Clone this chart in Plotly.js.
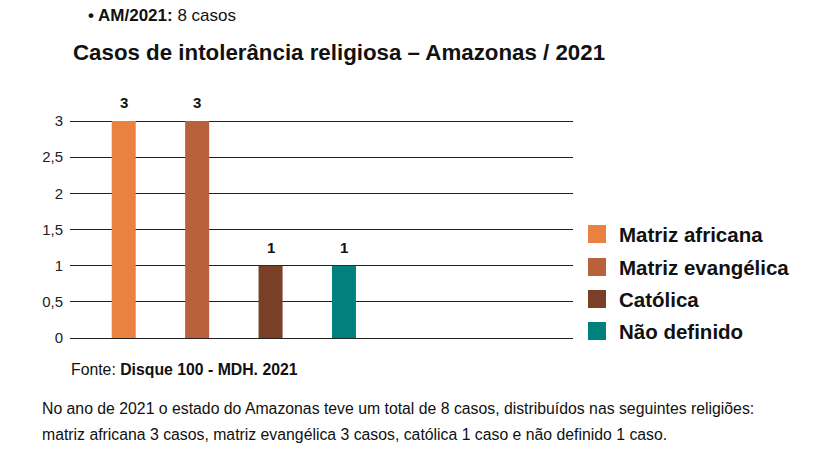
<!DOCTYPE html>
<html>
<head>
<meta charset="utf-8">
<script src="https://cdn.plot.ly/plotly-3.0.1.min.js"></script>
<style>html,body{margin:0;padding:0;background:#fff;}#chart{width:819px;height:453px;}</style>
</head>
<body>
<div id="chart"></div>
<script>
const categories = ["Matriz africana", "Matriz evangélica", "Católica", "Não definido"];
const values = [3, 3, 1, 1];
const colors = ["#E98240", "#B9613A", "#7A3F27", "#00817E"];
const yTicks = [0, 0.5, 1, 1.5, 2, 2.5, 3];
const yTickLabels = ["0", "0,5", "1", "1,5", "2", "2,5", "3"];

const W = 819, H = 453;
const M = {l: 70, r: 246, t: 119, b: 115};
const pw = W - M.l - M.r, ph = H - M.t - M.b;
const px = x => (x - M.l) / pw;
const py = y => (H - M.b - y) / ph;

const txtF = "Liberation Sans, Arial, sans-serif";
const boldF = "Liberation Sans, Arial, sans-serif";

const annotations = [];
// header
annotations.push({xref:'paper', yref:'paper', x:px(86), y:py(15), xanchor:'left', yanchor:'middle', showarrow:false,
  text:'<b>• AM/2021:</b> 8 casos', font:{family:txtF, size:17, color:'#111'}});
annotations.push({xref:'paper', yref:'paper', x:px(71), y:py(53), xanchor:'left', yanchor:'middle', showarrow:false,
  text:'<b>Casos de intolerância religiosa – Amazonas / 2021</b>', font:{family:boldF, size:22.3, color:'#111'}});
// source + text
annotations.push({xref:'paper', yref:'paper', x:px(69), y:py(369), xanchor:'left', yanchor:'middle', showarrow:false,
  text:'Fonte: <b>Disque 100 - MDH. 2021</b>', font:{family:txtF, size:15.8, color:'#111'}});
annotations.push({xref:'paper', yref:'paper', x:px(40), y:py(408), xanchor:'left', yanchor:'middle', showarrow:false,
  text:'No ano de 2021 o estado do Amazonas teve um total de 8 casos, distribuídos nas seguintes religiões:', font:{family:txtF, size:15.8, color:'#111'}});
annotations.push({xref:'paper', yref:'paper', x:px(40), y:py(434), xanchor:'left', yanchor:'middle', showarrow:false,
  text:'matriz africana 3 casos, matriz evangélica 3 casos, católica 1 caso e não definido 1 caso.', font:{family:txtF, size:15.8, color:'#111'}});
// value labels
categories.forEach((c, i) => {
  annotations.push({xref:'x', yref:'y', x:c, y:values[i], yanchor:'bottom', yshift:8, showarrow:false,
    text:'<b>' + values[i] + '</b>', font:{family:boldF, size:15, color:'#111'}});
});
// legend
const shapes = [];
const legY = [234, 267, 299, 331];
categories.forEach((c, i) => {
  shapes.push({type:'rect', xref:'paper', yref:'paper', x0:px(588), x1:px(606), y0:py(legY[i]+9), y1:py(legY[i]-9),
    fillcolor:colors[i], line:{width:0}});
  annotations.push({xref:'paper', yref:'paper', x:px(617), y:py(legY[i]), xanchor:'left', yanchor:'middle', showarrow:false,
    text:'<b>' + c + '</b>', font:{family:boldF, size:20.5, color:'#111'}});
});

const trace = {type:'bar', x:categories, y:values, width:0.327, marker:{color:colors, line:{width:0}},
  showlegend:false, hoverinfo:'x+y'};

const layout = {
  width:W, height:H, margin:M, paper_bgcolor:'#fff', plot_bgcolor:'#fff',
  showlegend:false, separators:',.',
  xaxis:{type:'category', categoryorder:'array', categoryarray:categories, range:[-0.732, 6.12],
    showticklabels:false, showgrid:false, zeroline:false, showline:false, ticks:''},
  yaxis:{range:[0, 3.0277], tickvals:yTicks, ticktext:yTickLabels, showgrid:true, gridcolor:'#222', gridwidth:1,
    zeroline:true, zerolinecolor:'#222', zerolinewidth:1, showline:false, ticks:'', ticklabelstandoff:6,
    tickfont:{family:txtF, size:15, color:'#222'}},
  annotations:annotations, shapes:shapes
};
Plotly.newPlot('chart', [trace], layout, {displayModeBar:false, staticPlot:true});
</script>
</body>
</html>
